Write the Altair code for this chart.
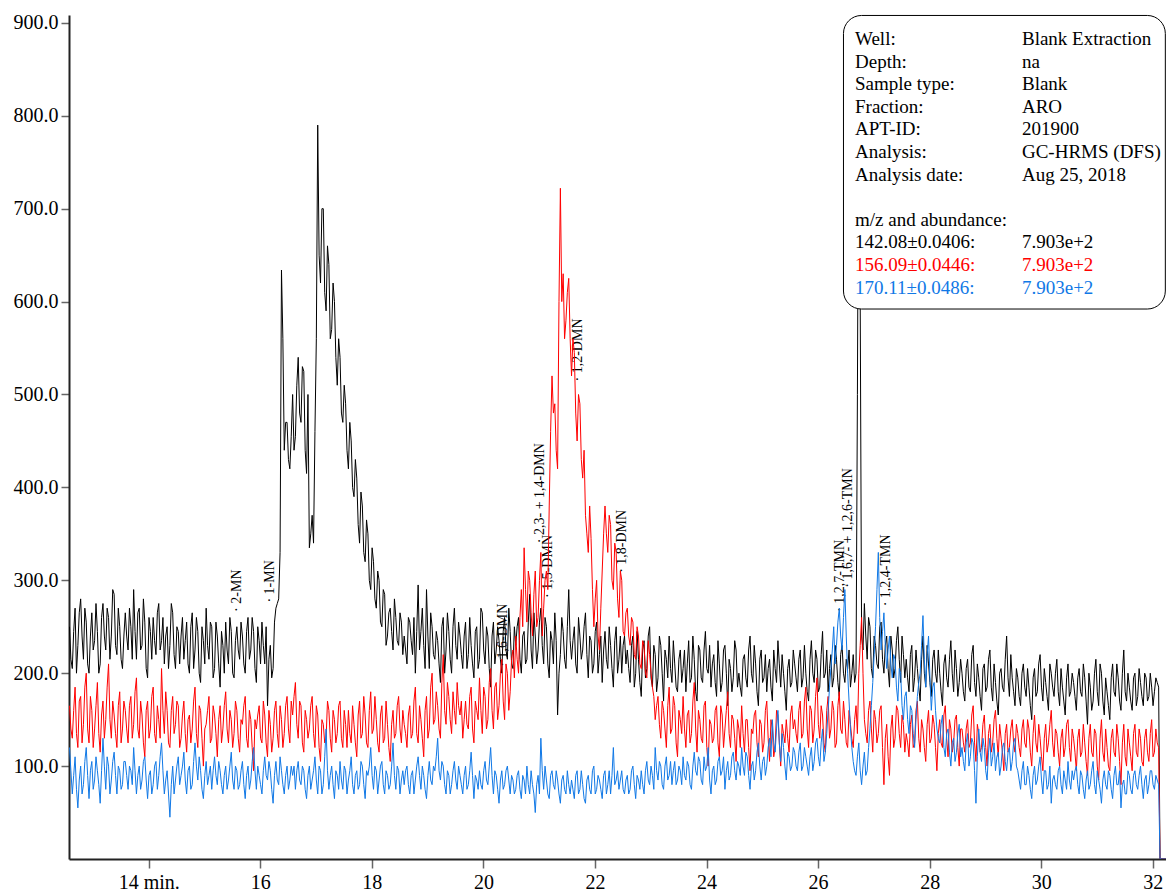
import altair as alt
import pandas as pd

# ---------------- data ----------------
# retention-time grid (min): samples every 0.05 min, plus in-between samples
times = [round(12.58 + 0.05 * i, 3) for i in range(391)]
times_mid = [round(12.605 + 0.05 * i, 3) for i in range(391)]
end_times = [32.13, 32.38]
end_values = [0, 0]

# m/z 142.08 (black)
black = [
    250, 205, 270, 230, 280, 215, 255, 200, 265, 235, 245, 210, 275, 225, 260, 240, 285, 220, 250, 205,
    265, 225, 250, 290, 215, 270, 230, 255, 195, 245, 260, 220, 275, 235, 210, 250, 230, 265, 205, 245,
    240, 215, 255, 200, 265, 225, 245, 190, 235, 270, 215, 250, 205, 240, 185, 230, 255, 210, 245, 195,
    250, 215, 240, 200, 260, 225, 245, 190, 235, 255, 210, 165, 230, 205, 270, 280, 634, 440, 470, 420,
    500, 455, 540, 470, 525, 415, 335, 370, 460, 790, 620, 700, 590, 640, 570, 600, 510, 540, 470, 490,
    420, 450, 390, 410, 340, 380, 320, 350, 290, 320, 270, 300, 250, 285, 240, 270, 225, 260, 230, 255,
    240, 210, 255, 220, 200, 295, 245, 230, 290, 205, 250, 215, 235, 190, 260, 225, 245, 200, 270, 215,
    240, 205, 255, 220, 230, 195, 250, 215, 265, 210, 240, 185, 255, 225, 235, 200, 260, 215, 245, 205,
    230, 260, 200, 245, 215, 285, 205, 240, 225, 270, 210, 250, 195, 235, 265, 155, 220, 245, 205, 290,
    215, 250, 200, 240, 225, 265, 195, 235, 210, 255, 220, 190, 245, 205, 230, 185, 250, 215, 200, 240,
    225, 190, 240, 200, 215, 175, 235, 205, 250, 185, 220, 195, 230, 170, 215, 240, 190, 210, 180, 225,
    205, 180, 235, 195, 215, 170, 225, 190, 245, 200, 185, 220, 175, 210, 190, 230, 165, 205, 195, 225,
    200, 175, 220, 185, 240, 190, 210, 165, 225, 195, 180, 215, 170, 205, 235, 185, 200, 160, 215, 190,
    210, 180, 225, 195, 200, 170, 235, 190, 215, 185, 245, 200, 180, 220, 195, 215, 175, 230, 190, 205,
    185, 220, 200, 880, 240, 275, 215, 250, 195, 230, 205, 255, 200, 240, 185, 225, 205, 250, 190, 220,
    215, 180, 230, 195, 205, 170, 240, 185, 210, 175, 225, 190, 200, 165, 220, 185, 235, 180, 205, 190,
    200, 170, 215, 180, 230, 175, 195, 160, 210, 185, 225, 170, 190, 155, 205, 180, 240, 175, 195, 165,
    195, 165, 210, 175, 185, 150, 205, 180, 220, 170, 190, 160, 200, 175, 215, 165, 185, 155, 210, 180,
    190, 160, 205, 175, 195, 145, 185, 170, 215, 165, 200, 155, 180, 150, 210, 175, 195, 160, 225, 170,
    185, 160, 200, 175, 190, 165, 195, 175, 185, 180, 190,
]
black_mid = [
    215, 245, 200, 265, 240, 270, 210, 240, 225, 275, 200, 260, 240, 270, 215, 290, 230, 270, 215, 240,
    240, 270, 215, 245, 265, 225, 280, 205, 260, 215, 235, 265, 225, 260, 240, 205, 275, 220, 250, 210,
    260, 235, 210, 250, 205, 260, 200, 250, 210, 230, 255, 195, 255, 210, 245, 200, 225, 260, 200, 235,
    225, 255, 210, 245, 215, 260, 205, 250, 210, 230, 250, 215, 195, 255, 275, 330, 560, 470, 430, 455,
    440, 510, 480, 530, 440, 500, 350, 340, 560, 650, 700, 610, 660, 560, 620, 540, 560, 480, 510, 440,
    470, 400, 430, 360, 395, 330, 365, 300, 335, 280, 310, 255, 290, 230, 265, 245, 280, 235, 265, 220,
    225, 260, 235, 260, 245, 225, 270, 205, 240, 265, 220, 245, 210, 250, 200, 265, 215, 250, 230, 255,
    220, 240, 205, 260, 210, 245, 205, 270, 225, 250, 205, 240, 210, 250, 215, 245, 225, 270, 210, 250,
    250, 215, 240, 210, 255, 225, 265, 210, 255, 230, 260, 210, 245, 210, 235, 200, 260, 215, 250, 235,
    235, 210, 260, 215, 250, 220, 240, 200, 245, 200, 240, 225, 215, 250, 205, 235, 200, 240, 230, 210,
    205, 230, 185, 245, 190, 225, 195, 240, 195, 230, 180, 240, 200, 225, 195, 205, 235, 185, 215, 190,
    225, 210, 190, 240, 180, 230, 195, 225, 205, 230, 210, 190, 235, 180, 225, 200, 215, 180, 235, 185,
    185, 215, 195, 225, 200, 230, 180, 215, 190, 220, 205, 185, 225, 190, 210, 220, 180, 205, 185, 225,
    195, 215, 185, 230, 180, 215, 200, 225, 180, 220, 195, 225, 205, 185, 230, 190, 220, 200, 215, 225,
    200, 190, 500, 600, 225, 240, 260, 205, 240, 210, 250, 215, 230, 205, 240, 195, 235, 215, 240, 195,
    195, 220, 180, 225, 185, 215, 200, 230, 190, 215, 200, 225, 180, 210, 195, 215, 200, 225, 175, 215,
    180, 205, 185, 220, 190, 210, 175, 205, 180, 215, 185, 210, 170, 200, 185, 215, 195, 220, 180, 205,
    175, 200, 185, 205, 165, 195, 175, 210, 185, 205, 175, 210, 185, 200, 180, 205, 170, 195, 175, 200,
    175, 195, 180, 210, 170, 200, 160, 200, 180, 210, 170, 195, 165, 195, 180, 210, 170, 200, 180, 200,
    170, 195, 165, 205, 175, 200, 170, 200, 165, 195, 185,
]

# m/z 156.09 (red)
red = [
    165, 130, 185, 120, 175, 145, 200, 125, 160, 140, 190, 115, 170, 150, 210, 130, 155, 120, 180, 140,
    160, 125, 175, 145, 195, 130, 155, 110, 170, 140, 185, 125, 150, 205, 135, 160, 120, 175, 145, 165,
    130, 170, 115, 155, 140, 185, 120, 160, 100, 145, 175, 130, 155, 110, 165, 140, 180, 125, 150, 135,
    160, 115, 145, 175, 120, 150, 95, 140, 165, 125, 155, 110, 145, 130, 170, 120, 150, 135, 175, 125,
    155, 190, 130, 165, 115, 150, 140, 175, 120, 155, 105, 145, 130, 160, 115, 150, 135, 170, 120, 145,
    160, 125, 145, 110, 170, 135, 155, 120, 180, 140, 150, 115, 165, 130, 145, 105, 160, 135, 175, 125,
    145, 120, 165, 135, 185, 125, 150, 110, 175, 140, 200, 150, 165, 130, 220, 145, 175, 135, 160, 190,
    155, 130, 170, 140, 185, 125, 160, 195, 135, 175, 150, 205, 140, 190, 165, 215, 150, 200, 180, 225,
    240, 200, 290, 335, 255, 300, 240, 310, 260, 330, 270, 310, 380, 520, 490, 420, 722, 630, 580, 625,
    520, 545, 450, 490, 410, 370, 330, 345, 250, 300, 225, 310, 380, 330, 360, 290, 330, 260, 300, 240,
    270, 230, 255, 215, 240, 205, 230, 195, 220, 185, 150, 175, 130, 160, 120, 185, 140, 165, 110, 150,
    175, 120, 160, 135, 190, 115, 150, 125, 170, 100, 145, 130, 165, 110, 155, 140, 180, 120, 150, 105,
    140, 165, 115, 150, 95, 135, 160, 110, 145, 125, 170, 105, 140, 120, 155, 100, 135, 150, 115, 165,
    150, 125, 170, 135, 185, 120, 160, 140, 195, 130, 155, 115, 175, 140, 160, 125, 180, 135, 150, 120,
    145, 120, 165, 200, 260, 150, 125, 170, 115, 150, 135, 165, 80, 145, 90, 155, 130, 160, 120, 145,
    135, 110, 155, 125, 170, 115, 140, 105, 160, 130, 145, 95, 150, 120, 165, 110, 140, 125, 155, 100,
    140, 115, 150, 125, 165, 105, 135, 120, 155, 100, 145, 125, 160, 110, 130, 95, 145, 120, 150, 115,
    135, 110, 150, 120, 140, 100, 155, 115, 130, 95, 145, 125, 160, 110, 135, 100, 140, 120, 150, 105,
    130, 95, 140, 115, 125, 90, 145, 110, 135, 85, 150, 105, 120, 95, 140, 110, 130, 80, 145, 100,
    125, 95, 145, 110, 130, 100, 140, 105, 150, 115, 125,
]
red_mid = [
    140, 160, 135, 170, 125, 185, 140, 175, 120, 165, 135, 155, 130, 185, 150, 170, 135, 165, 125, 170,
    140, 165, 130, 180, 140, 170, 125, 160, 130, 175, 135, 165, 130, 160, 180, 125, 160, 135, 170, 120,
    155, 135, 150, 125, 170, 135, 165, 130, 140, 160, 125, 165, 135, 150, 125, 165, 140, 160, 120, 170,
    130, 150, 165, 130, 160, 120, 150, 155, 130, 170, 125, 160, 115, 160, 135, 165, 120, 165, 140, 170,
    175, 145, 170, 125, 160, 130, 165, 135, 165, 120, 150, 125, 170, 130, 160, 125, 165, 130, 160, 120,
    135, 165, 125, 155, 130, 175, 125, 160, 135, 175, 125, 155, 125, 170, 120, 145, 130, 165, 140, 160,
    135, 155, 130, 170, 135, 165, 130, 160, 130, 185, 145, 180, 140, 190, 160, 190, 150, 180, 145, 165,
    170, 150, 145, 175, 140, 170, 150, 160, 185, 140, 190, 160, 185, 150, 200, 170, 210, 160, 215, 195,
    215, 260, 250, 290, 310, 265, 285, 250, 300, 240, 300, 290, 460, 480, 440, 600, 600, 560, 610, 560,
    560, 480, 500, 430, 440, 350, 380, 290, 280, 240, 270, 350, 350, 370, 300, 340, 280, 310, 245, 265,
    240, 260, 220, 250, 210, 235, 200, 235, 200, 175, 165, 145, 170, 140, 165, 135, 175, 125, 160, 135,
    140, 155, 125, 170, 140, 160, 130, 165, 120, 150, 125, 160, 125, 165, 120, 160, 135, 155, 130, 150,
    120, 135, 150, 120, 140, 155, 125, 150, 115, 160, 130, 150, 110, 160, 125, 145, 125, 130, 155, 140,
    135, 160, 130, 170, 140, 165, 125, 175, 145, 165, 125, 160, 130, 170, 120, 165, 140, 170, 125, 160,
    130, 150, 135, 230, 200, 135, 160, 140, 160, 125, 160, 120, 130, 110, 140, 120, 165, 135, 155, 115,
    125, 145, 120, 160, 130, 150, 120, 145, 125, 155, 120, 135, 125, 155, 130, 150, 115, 150, 120, 140,
    125, 140, 120, 155, 125, 145, 115, 145, 120, 135, 115, 150, 130, 145, 115, 135, 115, 140, 125, 145,
    120, 140, 125, 150, 115, 135, 125, 145, 110, 130, 115, 145, 125, 140, 115, 130, 110, 145, 120, 140,
    115, 130, 110, 145, 105, 130, 115, 140, 100, 130, 115, 140, 100, 130, 115, 145, 105, 125, 110, 140,
    110, 135, 115, 140, 105, 130, 115, 135, 110, 140, 120,
]

# m/z 170.11 (blue)
blue = [
    120, 70, 110, 55, 100, 80, 120, 65, 105, 85, 95, 60, 130, 75, 100, 85, 115, 70, 95, 80,
    105, 75, 95, 120, 70, 100, 85, 110, 65, 95, 80, 105, 90, 125, 70, 95, 45, 100, 85, 110,
    90, 115, 70, 100, 80, 125, 85, 95, 65, 105, 90, 75, 110, 80, 95, 70, 100, 85, 115, 75,
    95, 80, 105, 65, 100, 85, 120, 75, 90, 70, 110, 85, 95, 60, 105, 80, 95, 70, 100, 85,
    90, 75, 105, 80, 95, 65, 100, 85, 110, 70, 95, 80, 140, 75, 100, 65, 90, 105, 75, 95,
    85, 110, 70, 95, 80, 100, 65, 90, 120, 75, 95, 85, 105, 70, 90, 80, 125, 75, 95, 85,
    80, 100, 70, 95, 85, 110, 75, 90, 65, 105, 80, 95, 130, 85, 100, 70, 90, 80, 105, 75,
    90, 70, 100, 80, 115, 65, 85, 95, 75, 105, 80, 120, 70, 90, 60, 95, 80, 100, 70, 85,
    75, 95, 65, 85, 100, 70, 80, 50, 90, 130, 75, 85, 65, 95, 75, 85, 60, 90, 70, 80,
    85, 65, 95, 75, 80, 60, 90, 70, 100, 75, 85, 65, 95, 80, 70, 120, 85, 75, 95, 70,
    90, 75, 100, 65, 85, 95, 70, 105, 80, 90, 120, 85, 100, 75, 110, 90, 80, 105, 85, 95,
    110, 85, 100, 75, 115, 90, 105, 80, 95, 120, 70, 100, 85, 110, 95, 75, 105, 90, 115, 85,
    100, 120, 90, 110, 75, 105, 95, 125, 85, 110, 100, 130, 150, 115, 160, 105, 120, 85, 110, 100,
    115, 95, 125, 100, 110, 90, 120, 105, 130, 100, 140, 115, 160, 205, 250, 230, 270, 225, 290, 200,
    140, 105, 90, 125, 80, 115, 95, 140, 190, 250, 330, 225, 265, 205, 240, 195, 215, 170, 200, 150,
    180, 135, 160, 120, 175, 200, 262, 185, 240, 160, 190, 140, 125, 155, 110, 140, 100, 130, 115, 145,
    120, 95, 135, 110, 125, 60, 140, 105, 120, 85, 130, 110, 95, 115, 100, 125, 95, 120, 105, 130,
    95, 75, 105, 80, 90, 65, 100, 85, 110, 70, 95, 80, 60, 90, 75, 100, 70, 85, 105, 75,
    85, 100, 70, 90, 65, 95, 80, 105, 70, 85, 60, 95, 75, 90, 65, 100, 80, 55, 85, 70,
    90, 70, 95, 75, 100, 65, 90, 80, 95, 75, 85,
]
blue_mid = [
    95, 90, 75, 85, 70, 105, 90, 95, 75, 110, 80, 95, 100, 110, 70, 105, 90, 100, 75, 105,
    90, 100, 80, 95, 90, 75, 105, 85, 90, 70, 100, 75, 110, 95, 85, 70, 80, 70, 100, 80,
    100, 85, 95, 75, 105, 100, 110, 75, 90, 80, 100, 95, 90, 105, 80, 90, 75, 100, 85, 100,
    75, 95, 80, 90, 75, 105, 95, 100, 80, 95, 90, 105, 75, 90, 85, 110, 80, 90, 75, 100,
    100, 95, 85, 100, 75, 90, 75, 95, 85, 100, 70, 110, 95, 90, 80, 95, 75, 85, 100, 70,
    95, 80, 90, 75, 105, 80, 95, 100, 90, 100, 70, 100, 80, 95, 75, 100, 90, 100, 70, 95,
    95, 80, 90, 70, 100, 90, 100, 75, 90, 85, 100, 110, 95, 105, 80, 95, 70, 95, 85, 100,
    80, 90, 75, 95, 90, 90, 75, 80, 95, 85, 100, 90, 95, 75, 85, 75, 95, 85, 90, 70,
    90, 75, 90, 70, 80, 95, 70, 80, 70, 95, 100, 70, 90, 80, 95, 70, 85, 75, 95, 70,
    75, 90, 70, 95, 65, 85, 75, 95, 70, 90, 75, 90, 70, 95, 90, 80, 95, 85, 75, 85,
    70, 95, 80, 90, 75, 80, 95, 85, 100, 75, 95, 105, 80, 100, 85, 105, 95, 80, 100, 80,
    90, 105, 80, 100, 95, 110, 85, 110, 100, 85, 95, 80, 105, 90, 110, 95, 85, 110, 95, 105,
    90, 100, 115, 90, 100, 85, 115, 100, 105, 90, 120, 110, 125, 140, 125, 135, 100, 115, 95, 120,
    100, 115, 95, 120, 100, 110, 95, 125, 110, 125, 105, 135, 185, 225, 210, 255, 240, 260, 240, 170,
    120, 95, 110, 95, 100, 90, 120, 165, 220, 290, 260, 245, 230, 225, 210, 220, 185, 205, 165, 175,
    150, 165, 135, 150, 190, 230, 215, 220, 195, 185, 160, 130, 145, 120, 135, 115, 125, 105, 135, 110,
    105, 125, 100, 130, 95, 110, 115, 130, 95, 115, 100, 125, 110, 90, 120, 105, 115, 95, 125, 100,
    85, 95, 80, 100, 75, 90, 80, 100, 85, 95, 75, 100, 85, 80, 95, 80, 95, 75, 85, 95,
    95, 80, 95, 75, 85, 75, 95, 80, 95, 75, 85, 80, 95, 75, 90, 80, 95, 80, 70, 95,
    75, 90, 80, 90, 80, 85, 70, 95, 80, 90, 80,
]

# peak labels
peak_labels = ["· 2-MN", "· 1-MN", "· 1,6-DMN", "· 2,3- + 1,4-DMN", "· 1,5-DMN",
               "· 1,2-DMN", "· 1,8-DMN", "· 1,2,7-TMN", "· 1,6,7- + 1,2,6-TMN", "· 1,2,4-TMN"]
peak_times = [15.583, 16.174, 20.351, 21.014, 21.158, 21.696, 22.485, 26.393, 26.536, 27.217]
peak_values = [266, 276, 207, 340, 281, 514, 308, 266, 292, 272]

# info box
info_left = ["Well:", "Depth:", "Sample type:", "Fraction:", "APT-ID:", "Analysis:",
             "Analysis date:", "", "m/z and abundance:", "142.08±0.0406:",
             "156.09±0.0446:", "170.11±0.0486:"]
info_right = ["Blank Extraction", "na", "Blank", "ARO", "201900", "GC-HRMS (DFS)",
              "Aug 25, 2018", "", "", "7.903e+2", "7.903e+2", "7.903e+2"]

BLACK = "#000000"
RED = "#ff0000"
BLUE = "#1078e6"
info_colors = [BLACK] * 10 + [RED, BLUE]


# ---------------- table ----------------
def series(main, mid):
    pts = list(zip(times, main)) + list(zip(times_mid, mid)) + list(zip(end_times, end_values))
    pts.sort(key=lambda p: p[0])
    return pts


sb, sr, sl = series(black, black_mid), series(red, red_mid), series(blue, blue_mid)
df = pd.DataFrame({
    "t": [p[0] for p in sb],
    "black": [p[1] for p in sb],
    "red": [p[1] for p in sr],
    "blue": [p[1] for p in sl],
})

# ---------------- chart ----------------
FONT = "Liberation Serif"
X_DOMAIN = [12.571, 32.237]
Y_DOMAIN = [0, 908.5]
xs = alt.Scale(domain=X_DOMAIN, nice=False, zero=False)
ys = alt.Scale(domain=Y_DOMAIN, nice=False, zero=False)

x_axis = alt.Axis(
    values=[14, 16, 18, 20, 22, 24, 26, 28, 30, 32],
    labelExpr="datum.value == 14 ? '14 min.' : format(datum.value, 'd')",
    title=None, grid=False, tickSize=9, tickColor="#666666", tickWidth=1.5,
    domainColor="#222222", domainWidth=2, labelFont=FONT, labelFontSize=20,
    labelColor="black", labelPadding=4, labelFlush=False, labelOverlap=False,
)
y_axis = alt.Axis(
    values=[100, 200, 300, 400, 500, 600, 700, 800, 900], format=".1f",
    title=None, grid=False, tickSize=8, tickColor="#666666", tickWidth=1.5,
    domainColor="#222222", domainWidth=2, labelFont=FONT, labelFontSize=20,
    labelColor="black", labelPadding=3, labelFlush=False, labelOverlap=False,
)


def X(field):
    return alt.X(field, scale=xs, axis=x_axis, title=None)


def Y(field):
    return alt.Y(field, scale=ys, axis=y_axis, title=None)


ann = pd.DataFrame({"t": peak_times, "v": peak_values, "label": peak_labels})
labels = alt.Chart(ann).mark_text(
    angle=270, align="left", baseline="middle", font=FONT, fontSize=14, color="black"
).encode(x=X("t:Q"), y=Y("v:Q"), text="label:N")


def trace(col, color):
    return alt.Chart(df).mark_line(color=color, strokeWidth=1, clip=True).encode(
        x=X("t:Q"), y=Y(f"{col}:Q")
    )


# info box geometry (data units)
box_df = pd.DataFrame({"x": [26.455], "x2": [32.225], "y": [592.0], "y2": [908.0]})
box = alt.Chart(box_df).mark_rect(
    fill="white", stroke="black", strokeWidth=1, cornerRadius=18
).encode(x=X("x:Q"), x2="x2:Q", y=Y("y:Q"), y2="y2:Q")

row_top = 876.2
row_step = 24.33
rows = pd.DataFrame({
    "yl": [row_top - i * row_step for i in range(len(info_left))],
    "left": info_left,
    "right": info_right,
    "color": info_colors,
})
rows["xl"] = 26.662
rows["xr"] = 29.655

info_l = alt.Chart(rows).mark_text(
    align="left", baseline="alphabetic", font=FONT, fontSize=19
).encode(x=X("xl:Q"), y=Y("yl:Q"), text="left:N",
         color=alt.Color("color:N", scale=None))
info_r = alt.Chart(rows).mark_text(
    align="left", baseline="alphabetic", font=FONT, fontSize=19
).encode(x=X("xr:Q"), y=Y("yl:Q"), text="right:N",
         color=alt.Color("color:N", scale=None))

chart = alt.layer(
    labels,
    trace("black", BLACK),
    trace("red", RED),
    trace("blue", BLUE),
    box,
    info_l,
    info_r,
).properties(
    width=1097,
    height=844,
    autosize=alt.AutoSizeParams(type="none"),
    padding={"left": 61, "top": 7, "right": 0, "bottom": 34},
).configure_view(stroke=None)

chart.save("out.html", embed_options={"renderer": "svg", "actions": False})
